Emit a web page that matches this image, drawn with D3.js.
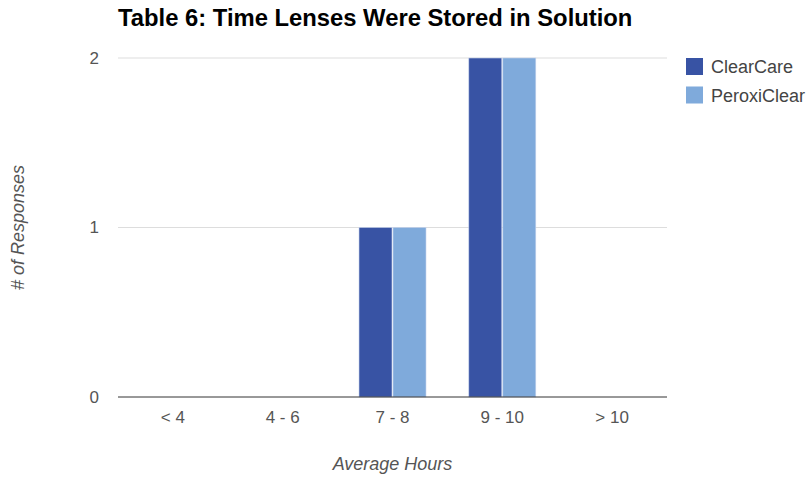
<!DOCTYPE html>
<html>
<head>
<meta charset="utf-8">
<script src="https://cdn.jsdelivr.net/npm/d3@7"></script>
<style>
  body { margin: 0; background: #fff; }
  text { font-family: "Liberation Sans", Arial, sans-serif; }
</style>
</head>
<body>
<div id="chart"></div>
<script>
var categories = ["< 4", "4 - 6", "7 - 8", "9 - 10", "> 10"];
var seriesNames = ["ClearCare", "PeroxiClear"];
var clearCare = [0, 0, 1, 2, 0];
var peroxiClear = [0, 0, 1, 2, 0];
var yTicks = [0, 1, 2];
var colors = ["#3853a4", "#7faadb"];

var svgWidth = 807;
var svgHeight = 477;

var margin = { top: 58, right: 140, bottom: 80, left: 118 };
var width = svgWidth - margin.left - margin.right;
var height = svgHeight - margin.top - margin.bottom;

var svg = d3.select("#chart")
  .append("svg")
  .attr("width", svgWidth)
  .attr("height", svgHeight);

var chartGroup = svg.append("g")
  .attr("transform", `translate(${margin.left}, ${margin.top})`);

// scales
var x0 = d3.scaleBand()
  .domain(categories)
  .range([0, width])
  .paddingInner(0.39)
  .paddingOuter(0.195);

var x1 = d3.scaleBand()
  .domain(seriesNames)
  .range([0, x0.bandwidth()])
  .paddingInner(0.03);

var y = d3.scaleLinear()
  .domain([0, 2])
  .range([height, 0]);

// gridlines
chartGroup.selectAll(".grid")
  .data(yTicks.filter(d => d !== 0))
  .enter()
  .append("line")
  .attr("x1", 0)
  .attr("x2", width)
  .attr("y1", d => y(d))
  .attr("y2", d => y(d))
  .attr("stroke", "#dddddd")
  .attr("stroke-width", 1);

// y tick labels
chartGroup.selectAll(".ytick")
  .data(yTicks)
  .enter()
  .append("text")
  .attr("x", -19)
  .attr("y", d => y(d))
  .attr("dy", "0.35em")
  .attr("text-anchor", "end")
  .attr("font-size", "17px")
  .attr("fill", "#555")
  .text(d => d);

// bars
var rows = categories.map((c, i) => ({ cat: c, values: [clearCare[i], peroxiClear[i]] }));

var groups = chartGroup.selectAll(".cat")
  .data(rows)
  .enter()
  .append("g")
  .attr("transform", d => `translate(${x0(d.cat)}, 0)`);

groups.selectAll("rect")
  .data(d => d.values.map((v, j) => ({ key: seriesNames[j], value: v, color: colors[j] })))
  .enter()
  .filter(d => d.value > 0)
  .append("rect")
  .attr("x", d => x1(d.key))
  .attr("y", d => y(d.value))
  .attr("width", x1.bandwidth())
  .attr("height", d => height - y(d.value))
  .attr("fill", d => d.color)
  .attr("stroke", "#c5d3ec")
  .attr("stroke-width", 0.6);

// baseline
chartGroup.append("line")
  .attr("x1", 0)
  .attr("x2", width)
  .attr("y1", y(0))
  .attr("y2", y(0))
  .attr("stroke", "#333")
  .attr("stroke-width", 1);

// x tick labels
chartGroup.selectAll(".xtick")
  .data(categories)
  .enter()
  .append("text")
  .attr("x", d => x0(d) + x0.bandwidth() / 2)
  .attr("y", height + 26)
  .attr("text-anchor", "middle")
  .attr("font-size", "17px")
  .attr("fill", "#555")
  .text(d => d);

// axis titles
chartGroup.append("text")
  .attr("x", width / 2)
  .attr("y", height + 73)
  .attr("text-anchor", "middle")
  .attr("font-size", "18px")
  .attr("font-style", "italic")
  .attr("fill", "#555")
  .text("Average Hours");

chartGroup.append("text")
  .attr("transform", `translate(-94, ${height / 2}) rotate(-90)`)
  .attr("text-anchor", "middle")
  .attr("font-size", "18px")
  .attr("font-style", "italic")
  .attr("fill", "#555")
  .text("# of Responses");

// title
svg.append("text")
  .attr("x", 118)
  .attr("y", 26)
  .attr("font-size", "23.8px")
  .attr("font-weight", "bold")
  .attr("fill", "#000")
  .text("Table 6: Time Lenses Were Stored in Solution");

// legend
var legend = svg.append("g")
  .attr("transform", "translate(686, 58)");

var items = legend.selectAll("g")
  .data(seriesNames)
  .enter()
  .append("g")
  .attr("transform", (d, i) => `translate(0, ${i * 28.5})`);

items.append("rect")
  .attr("width", 17)
  .attr("height", 17)
  .attr("fill", (d, i) => colors[i]);

items.append("text")
  .attr("x", 25)
  .attr("y", 9)
  .attr("dy", "0.35em")
  .attr("font-size", "18px")
  .attr("fill", "#444")
  .text(d => d);
</script>
</body>
</html>
